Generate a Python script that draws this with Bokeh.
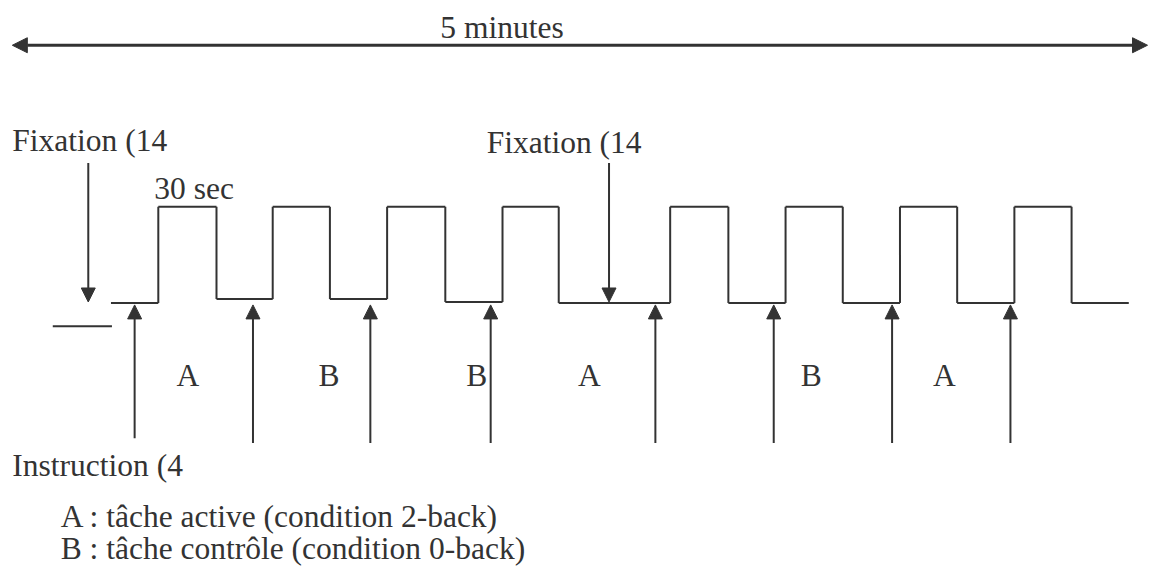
from bokeh.plotting import figure
from bokeh.models import Range1d, Arrow, NormalHead, ColumnDataSource
from bokeh.core.properties import value
from bokeh.embed import file_html
from bokeh.resources import INLINE

# ---------------- data (diagram units; the scheme is not drawn to scale) ----------------
total_label = "5 minutes"
span_start, span_end = 12, 1163          # extent of the 5-minute double arrow
span_level = 46

pulse_on = [160, 276, 392, 509, 679, 796, 912, 1028]    # block onsets
pulse_off = [219, 334, 451, 566, 738, 854, 970, 1086]   # block offsets
baseline_start, baseline_end = 112, 1144
low_levels = [311, 307, 307, 310, 311, 311, 311, 311, 311]
high_level = 212
pre_stub = [53, 113]
pre_stub_level = 335

fixation_x = [89, 617]
fixation_top = 167
fixation_tip = 310
fixation_labels = ["Fixation (14", "Fixation (14"]
fixation_label_x = [12, 493]
fixation_label_y = [155, 157]

block_len_label = "30 sec"
block_len_x, block_len_y = 156, 205

instruction_x = [136, 256, 375, 497, 664, 784, 904, 1024]
instruction_bottom = [450, 455, 455, 455, 455, 455, 455, 455]
instruction_tip = 313
instruction_label = "Instruction (4"
instruction_label_x, instruction_label_y = 12, 490

block_labels = ["A", "B", "B", "A", "B", "A"]
block_label_x = [190, 333, 483, 597, 822, 957]
block_label_y = 397

legend_lines = ["A : tâche active (condition 2-back)",
                "B : tâche contrôle (condition 0-back)"]
legend_x = 61
legend_y = [542, 575]

total_label_x, total_label_y = 446, 39

INK = "#333333"
FONT = value("Liberation Serif")
FS = "31.5px"
BASE_SHIFT = 11.5   # compensates Bokeh's placement of the alphabetic baseline

# ---------------- figure ----------------
W, H = 1149, 567
p = figure(width=W, height=H, output_backend="svg", toolbar_location=None,
           x_range=Range1d(0, 1165), y_range=Range1d(583, 0),
           min_border=0, background_fill_color="white", border_fill_color="white")
p.axis.visible = False
p.grid.visible = False
p.outline_line_color = None

# square-wave block design
hx0, hx1, hy0, hy1 = [], [], [], []
starts = [baseline_start] + pulse_off
ends = pulse_on + [baseline_end]
for s, e, lv in zip(starts, ends, low_levels):
    hx0.append(s); hx1.append(e); hy0.append(lv); hy1.append(lv)
for i, (a, b) in enumerate(zip(pulse_on, pulse_off)):
    hx0.append(a); hx1.append(b); hy0.append(high_level); hy1.append(high_level)
    hx0.append(a); hx1.append(a); hy0.append(low_levels[i]); hy1.append(high_level)
    hx0.append(b); hx1.append(b); hy0.append(high_level); hy1.append(low_levels[i + 1])
hx0.append(pre_stub[0]); hx1.append(pre_stub[1]); hy0.append(pre_stub_level); hy1.append(pre_stub_level)
p.segment(x0=hx0, y0=hy0, x1=hx1, y1=hy1, line_color=INK, line_width=2)

# 5-minute double arrow
p.add_layout(Arrow(x_start=span_start, y_start=span_level, x_end=span_end, y_end=span_level,
                   line_color=INK, line_width=3,
                   start=NormalHead(size=15, fill_color=INK, line_color=INK, line_width=1),
                   end=NormalHead(size=15, fill_color=INK, line_color=INK, line_width=1)))

# fixation arrows (pointing down)
fix_src = ColumnDataSource(dict(x0=fixation_x, y0=[fixation_top] * len(fixation_x),
                                x1=fixation_x, y1=[fixation_tip] * len(fixation_x)))
p.add_layout(Arrow(x_start="x0", y_start="y0", x_end="x1", y_end="y1", source=fix_src,
                   line_color=INK, line_width=2,
                   end=NormalHead(size=14, fill_color=INK, line_color=INK, line_width=1)))

# instruction arrows (pointing up)
ins_src = ColumnDataSource(dict(x0=instruction_x, y0=instruction_bottom,
                                x1=instruction_x, y1=[instruction_tip] * len(instruction_x)))
p.add_layout(Arrow(x_start="x0", y_start="y0", x_end="x1", y_end="y1", source=ins_src,
                   line_color=INK, line_width=2,
                   end=NormalHead(size=14, fill_color=INK, line_color=INK, line_width=1)))

# texts
def ys(vals):
    return [v - BASE_SHIFT for v in vals]

txt = dict(text_font=FONT, text_font_size=FS, text_color=INK, text_baseline="alphabetic")
p.text(x=[total_label_x], y=ys([total_label_y]), text=[total_label], text_align="left", **txt)
p.text(x=fixation_label_x, y=ys(fixation_label_y), text=fixation_labels, text_align="left", **txt)
p.text(x=[block_len_x], y=ys([block_len_y]), text=[block_len_label], text_align="left", **txt)
p.text(x=block_label_x, y=ys([block_label_y] * len(block_labels)), text=block_labels,
       text_align="center", **txt)
p.text(x=[instruction_label_x], y=ys([instruction_label_y]), text=[instruction_label],
       text_align="left", **txt)
p.text(x=[legend_x] * len(legend_lines), y=ys(legend_y), text=legend_lines, text_align="left", **txt)

open("out.html", "w").write(file_html(p, INLINE))
